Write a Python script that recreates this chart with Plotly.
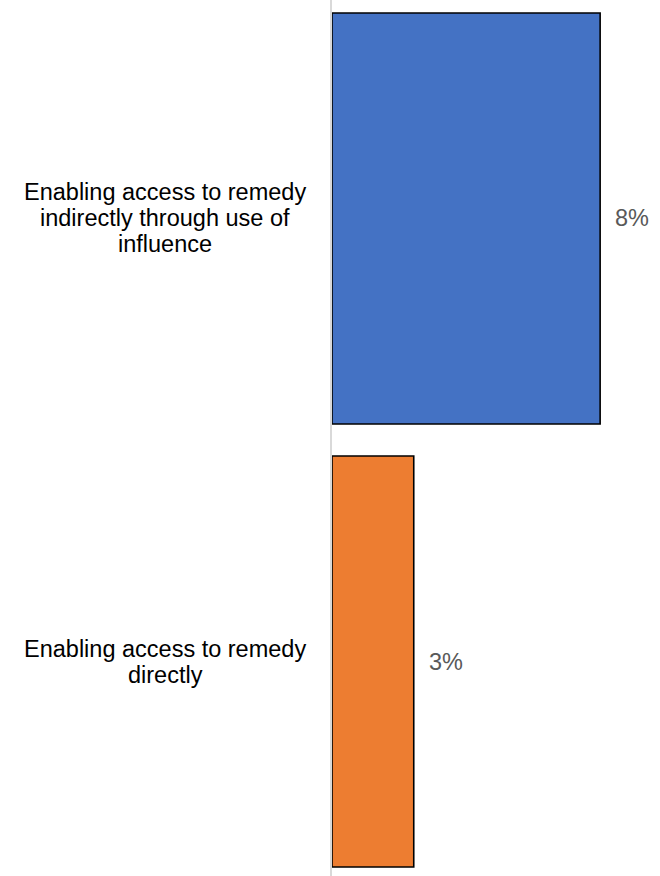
import plotly.graph_objects as go

# Data
categories = [
    "Enabling access to remedy indirectly through use of influence",
    "Enabling access to remedy directly",
]
category_lines = [
    ["Enabling access to remedy", "indirectly through use of", "influence"],
    ["Enabling access to remedy", "directly"],
]
values = [8.2, 2.5]
value_labels = ["8%", "3%"]
colors = ["#4472C4", "#ED7D31"]
positions = [1, 0]

FONT = "Arial, Liberation Sans, sans-serif"

fig = go.Figure()
fig.add_trace(go.Bar(
    x=values,
    y=positions,
    orientation="h",
    width=0.928,
    marker=dict(color=colors, line=dict(color="#000000", width=1.6)),
    hoverinfo="skip",
    showlegend=False,
))

annotations = []
for pos, v, lab in zip(positions, values, value_labels):
    annotations.append(dict(
        x=v, y=pos, xref="x", yref="y", text=lab, showarrow=False,
        xanchor="left", yanchor="middle", xshift=13,
        font=dict(family=FONT, size=23.5, color="#595959"),
    ))

line_step = 26
for pos, lines in zip(positions, category_lines):
    n = len(lines)
    for i, ln in enumerate(lines):
        annotations.append(dict(
            x=-0.5107, y=pos, xref="paper", yref="y", text=ln, showarrow=False,
            xanchor="center", yanchor="middle",
            yshift=((n - 1) / 2 - i) * line_step,
            font=dict(family=FONT, size=23.5, color="#000000"),
        ))

fig.update_layout(
    width=660, height=876,
    margin=dict(l=332, r=1, t=0, b=0),
    paper_bgcolor="white", plot_bgcolor="white",
    xaxis=dict(range=[0, 10], visible=False, fixedrange=True),
    yaxis=dict(range=[-0.4842, 1.4932], showticklabels=False, showgrid=False,
               zeroline=False, showline=True, linecolor="#d9d9d9", linewidth=2,
               ticks="", fixedrange=True),
    annotations=annotations,
    bargap=0.07,
)

fig.write_html("out.html", config={"displayModeBar": False},
               post_script="document.body.style.margin='0';")
